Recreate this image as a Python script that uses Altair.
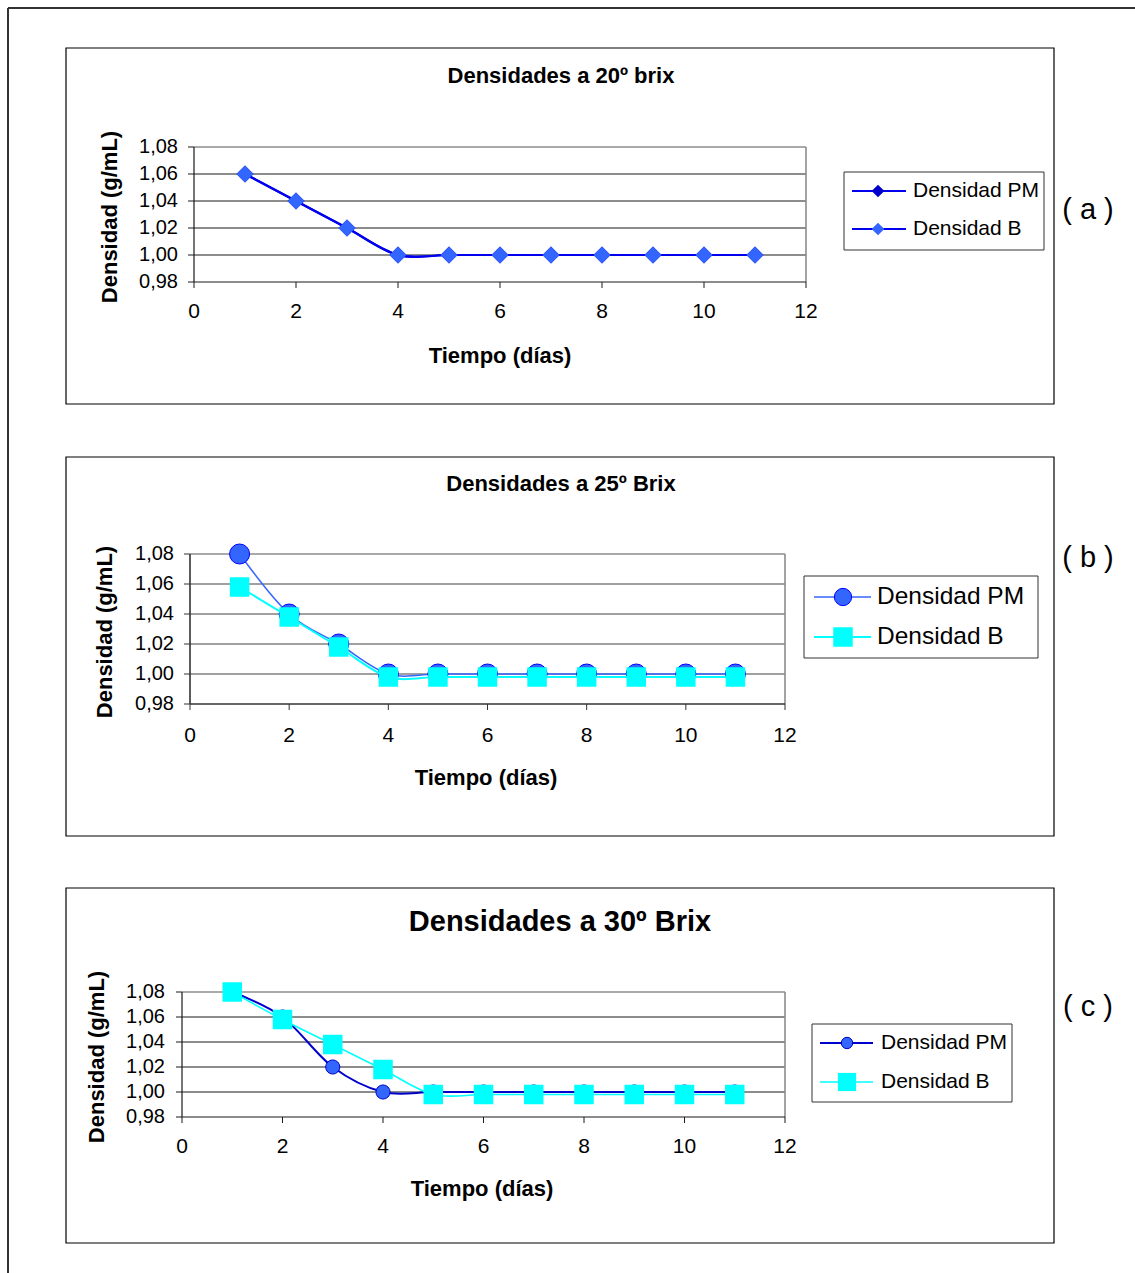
import altair as alt
import pandas as pd

# ---------------- data ----------------
days = [1, 2, 3, 4, 5, 6, 7, 8, 9, 10, 11]
a_pm = [1.06, 1.04, 1.02, 1.00, 1.00, 1.00, 1.00, 1.00, 1.00, 1.00, 1.00]
a_b = [1.06, 1.04, 1.02, 1.00, 1.00, 1.00, 1.00, 1.00, 1.00, 1.00, 1.00]
b_pm = [1.08, 1.04, 1.02, 1.00, 1.00, 1.00, 1.00, 1.00, 1.00, 1.00, 1.00]
b_b = [1.058, 1.038, 1.018, 0.998, 0.998, 0.998, 0.998, 0.998, 0.998, 0.998, 0.998]
c_pm = [1.08, 1.06, 1.02, 1.00, 1.00, 1.00, 1.00, 1.00, 1.00, 1.00, 1.00]
c_b = [1.08, 1.058, 1.038, 1.018, 0.998, 0.998, 0.998, 0.998, 0.998, 0.998, 0.998]

series_names = ["Densidad PM", "Densidad B"]
titles = ["Densidades a 20º brix", "Densidades a 25º Brix", "Densidades a 30º Brix"]
panel_labels = ["( a )", "( b )", "( c )"]
x_title = "Tiempo (días)"
y_title = "Densidad (g/mL)"
x_ticks = [0, 2, 4, 6, 8, 10, 12]
x_tick_labels = ["0", "2", "4", "6", "8", "10", "12"]
y_ticks = [0.98, 1.00, 1.02, 1.04, 1.06, 1.08]
y_tick_labels = ["0,98", "1,00", "1,02", "1,04", "1,06", "1,08"]

FONT = "Liberation Sans"

# ---------------- layout / style per panel ----------------
panels = [
    dict(pm=a_pm, b=a_b,
         box=(66, 48, 1054, 404), xr=(194, 806), yr=(282, 147),
         grid="#1a1a1a", gridw=1, axc="#1a1a1a", axw=1.2,
         tick_fs=20, ydx=-16, xdy=30,
         title_xy=(561, 76), title_fs=22,
         ytitle_xy=(110, 217), xtitle_xy=(500, 356), atitle_fs=22,
         label_xy=(1088, 210),
         pm_line="#0000EE", pm_lw=2.2, b_line="#0000EE", b_lw=2.2,
         pm_shape="diamond", pm_fill="#0000CC", pm_stroke="#0000CC", pm_size=289, pm_sw=0,
         b_shape="diamond", b_fill="#3366FF", b_stroke="#3366FF", b_size=289, b_sw=0,
         leg_box=(844, 172, 1044, 250), leg_rows=(191, 229), leg_line=(852, 906),
         leg_mark=878, leg_text=913, leg_fs=21, leg_pm_size=160, leg_b_size=160),
    dict(pm=b_pm, b=b_b,
         box=(66, 457, 1054, 836), xr=(190, 785), yr=(704, 554),
         grid="#808080", gridw=1.6, axc="#333333", axw=1.6,
         tick_fs=20, ydx=-16, xdy=32,
         title_xy=(561, 484), title_fs=22,
         ytitle_xy=(105, 632), xtitle_xy=(486, 778), atitle_fs=22,
         label_xy=(1088, 558),
         pm_line="#3366FF", pm_lw=1.5, b_line="#00FFFF", b_lw=2,
         pm_shape="circle", pm_fill="#3366FF", pm_stroke="#0000FF", pm_size=400, pm_sw=1,
         b_shape="square", b_fill="#00FFFF", b_stroke="#00FFFF", b_size=380, b_sw=0,
         leg_box=(804, 576, 1038, 658), leg_rows=(597, 637), leg_line=(814, 871),
         leg_mark=843, leg_text=877, leg_fs=24.5, leg_pm_size=300, leg_b_size=380),
    dict(pm=c_pm, b=c_b,
         box=(66, 888, 1054, 1243), xr=(182, 785), yr=(1117, 992),
         grid="#1a1a1a", gridw=1, axc="#1a1a1a", axw=1.2,
         tick_fs=20, ydx=-17, xdy=30,
         title_xy=(560, 922), title_fs=29,
         ytitle_xy=(97, 1057), xtitle_xy=(482, 1189), atitle_fs=22,
         label_xy=(1088, 1007),
         pm_line="#0000CC", pm_lw=2, b_line="#00FFFF", b_lw=1.6,
         pm_shape="circle", pm_fill="#3366FF", pm_stroke="#0000CC", pm_size=200, pm_sw=1,
         b_shape="square", b_fill="#00FFFF", b_stroke="#00FFFF", b_size=380, b_sw=0,
         leg_box=(812, 1024, 1012, 1102), leg_rows=(1043, 1082), leg_line=(820, 873),
         leg_mark=847, leg_text=881, leg_fs=21, leg_pm_size=130, leg_b_size=330),
]

one = alt.Data(values=[{}])


def txt(s, x, y, fs, bold=False, align="center", angle=0):
    kw = dict(text=s, font=FONT, fontSize=fs, align=align, baseline="middle",
              color="black", fontWeight="bold" if bold else "normal")
    if angle:
        kw["angle"] = angle
    return alt.Chart(one).mark_text(**kw).encode(x=alt.value(x), y=alt.value(y))


def build_panel(i, P):
    xs = alt.Scale(domain=[0, 12], range=list(P["xr"]), nice=False, zero=False)
    ys = alt.Scale(domain=[0.98, 1.08], range=list(P["yr"]), nice=False, zero=False)
    L = []
    bx = P["box"]
    # chart-area box
    L.append(alt.Chart(one).mark_rect(fillOpacity=0, stroke="black", strokeWidth=1.2).encode(
        x=alt.value(bx[0]), x2=alt.value(bx[2]), y=alt.value(bx[1]), y2=alt.value(bx[3])))
    # gridlines
    gdf = pd.DataFrame({"v": y_ticks[1:-1]})
    L.append(alt.Chart(gdf).mark_rule(color=P["grid"], strokeWidth=P["gridw"]).encode(
        y=alt.Y("v:Q", scale=ys, axis=None),
        x=alt.XDatum(0, scale=xs, axis=None), x2=alt.X2Datum(12)))
    # plot frame: top & right gray
    L.append(alt.Chart(one).mark_rule(color="#8c8c8c", strokeWidth=1.6).encode(
        y=alt.YDatum(1.08, scale=ys, axis=None),
        x=alt.XDatum(0, scale=xs, axis=None), x2=alt.X2Datum(12)))
    L.append(alt.Chart(one).mark_rule(color="#8c8c8c", strokeWidth=1.6).encode(
        x=alt.XDatum(12, scale=xs, axis=None),
        y=alt.YDatum(0.98, scale=ys, axis=None), y2=alt.Y2Datum(1.08)))
    # axes lines
    L.append(alt.Chart(one).mark_rule(color=P["axc"], strokeWidth=P["axw"]).encode(
        x=alt.XDatum(0, scale=xs, axis=None),
        y=alt.YDatum(0.98, scale=ys, axis=None), y2=alt.Y2Datum(1.08)))
    L.append(alt.Chart(one).mark_rule(color=P["axc"], strokeWidth=P["axw"]).encode(
        y=alt.YDatum(0.98, scale=ys, axis=None),
        x=alt.XDatum(0, scale=xs, axis=None), x2=alt.X2Datum(12)))
    # y ticks
    ydf = pd.DataFrame({"v": y_ticks, "lab": y_tick_labels})
    L.append(alt.Chart(ydf).mark_rule(color=P["axc"], strokeWidth=1, x2Offset=-6).encode(
        y=alt.Y("v:Q", scale=ys, axis=None),
        x=alt.XDatum(0, scale=xs, axis=None), x2=alt.X2Datum(0)))
    L.append(alt.Chart(ydf).mark_text(font=FONT, fontSize=P["tick_fs"], align="right",
                                      baseline="middle", dx=P["ydx"], color="black").encode(
        y=alt.Y("v:Q", scale=ys, axis=None),
        x=alt.XDatum(0, scale=xs, axis=None), text="lab:N"))
    # x ticks
    xdf = pd.DataFrame({"v": x_ticks, "lab": x_tick_labels})
    L.append(alt.Chart(xdf).mark_rule(color=P["axc"], strokeWidth=1, y2Offset=6).encode(
        x=alt.X("v:Q", scale=xs, axis=None),
        y=alt.YDatum(0.98, scale=ys, axis=None), y2=alt.Y2Datum(0.98)))
    L.append(alt.Chart(xdf).mark_text(font=FONT, fontSize=P["tick_fs"] + 1, align="center",
                                      baseline="middle", dy=P["xdy"], color="black").encode(
        x=alt.X("v:Q", scale=xs, axis=None),
        y=alt.YDatum(0.98, scale=ys, axis=None), text="lab:N"))
    # titles
    L.append(txt(titles[i], *P["title_xy"], P["title_fs"], bold=True))
    L.append(txt(y_title, *P["ytitle_xy"], P["atitle_fs"], bold=True, angle=270))
    L.append(txt(x_title, *P["xtitle_xy"], P["atitle_fs"], bold=True))
    L.append(txt(panel_labels[i], *P["label_xy"], 29))
    # data series
    pm_df = pd.DataFrame({"day": days, "val": P["pm"]})
    b_df = pd.DataFrame({"day": days, "val": P["b"]})
    enc = dict(x=alt.X("day:Q", scale=xs, axis=None), y=alt.Y("val:Q", scale=ys, axis=None))
    L.append(alt.Chart(pm_df).mark_line(interpolate="cardinal", color=P["pm_line"],
                                        strokeWidth=P["pm_lw"]).encode(**enc))
    L.append(alt.Chart(pm_df).mark_point(shape=P["pm_shape"], filled=True, fill=P["pm_fill"],
                                         stroke=P["pm_stroke"], strokeWidth=P["pm_sw"],
                                         size=P["pm_size"], opacity=1).encode(**enc))
    L.append(alt.Chart(b_df).mark_line(interpolate="cardinal", color=P["b_line"],
                                       strokeWidth=P["b_lw"]).encode(**enc))
    L.append(alt.Chart(b_df).mark_point(shape=P["b_shape"], filled=True, fill=P["b_fill"],
                                        stroke=P["b_stroke"], strokeWidth=P["b_sw"],
                                        size=P["b_size"], opacity=1).encode(**enc))
    # legend
    lb = P["leg_box"]
    L.append(alt.Chart(one).mark_rect(fill="white", stroke="#333333", strokeWidth=1).encode(
        x=alt.value(lb[0]), x2=alt.value(lb[2]), y=alt.value(lb[1]), y2=alt.value(lb[3])))
    specs = [
        (P["pm_line"], P["pm_lw"], P["pm_shape"], P["pm_fill"], P["pm_stroke"], P["pm_sw"], P["leg_pm_size"]),
        (P["b_line"], P["b_lw"], P["b_shape"], P["b_fill"], P["b_stroke"], P["b_sw"], P["leg_b_size"]),
    ]
    for k, (lc, lw, shp, fc, sc, sw, sz) in enumerate(specs):
        ry = P["leg_rows"][k]
        L.append(alt.Chart(one).mark_rule(color=lc, strokeWidth=lw).encode(
            x=alt.value(P["leg_line"][0]), x2=alt.value(P["leg_line"][1]), y=alt.value(ry)))
        L.append(alt.Chart(one).mark_point(shape=shp, filled=True, fill=fc, stroke=sc,
                                           strokeWidth=sw, size=sz, opacity=1).encode(
            x=alt.value(P["leg_mark"]), y=alt.value(ry)))
        L.append(txt(series_names[k], P["leg_text"], ry, P["leg_fs"], align="left"))
    return L


layers = []
# outer figure frame
layers.append(alt.Chart(one).mark_rule(color="#333333", strokeWidth=2).encode(
    x=alt.value(8), x2=alt.value(1135), y=alt.value(8)))
layers.append(alt.Chart(one).mark_rule(color="#333333", strokeWidth=2).encode(
    x=alt.value(8), y=alt.value(8), y2=alt.value(1273)))
for i, P in enumerate(panels):
    layers.extend(build_panel(i, P))

chart = alt.layer(*layers).resolve_scale(x="independent", y="independent").properties(
    width=1135, height=1273, padding=0, autosize="none", background="white"
).configure_view(stroke=None)

chart.save("out.html", embed_options={"renderer": "svg", "actions": False})
